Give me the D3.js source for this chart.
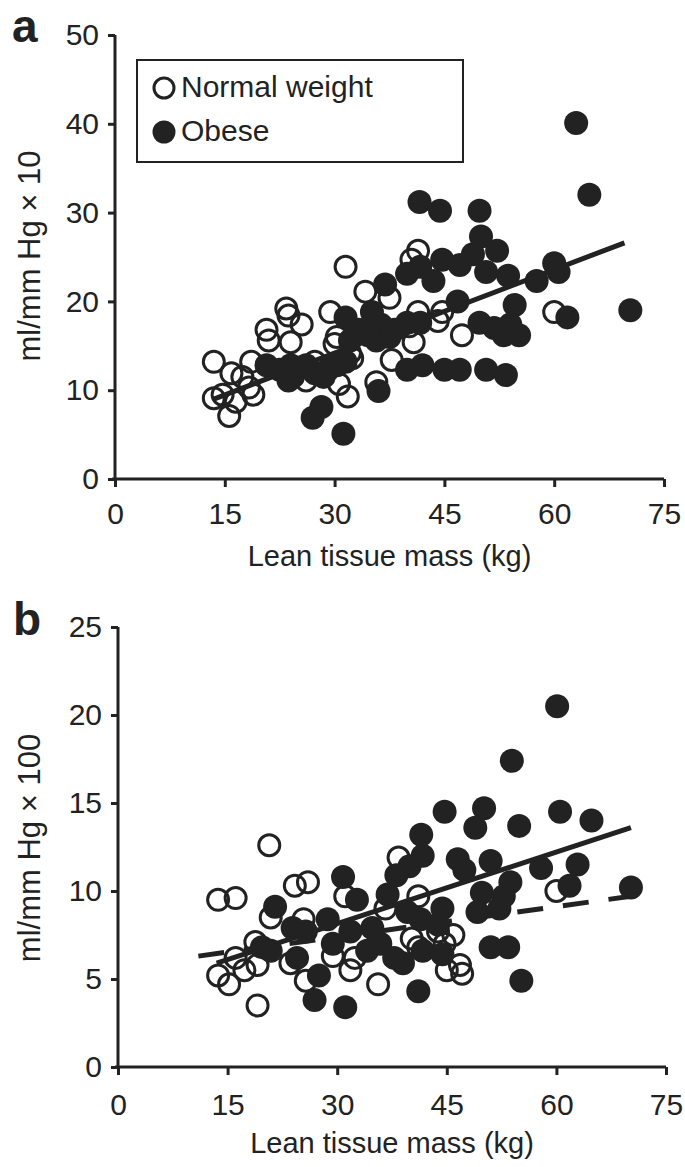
<!DOCTYPE html>
<html>
<head>
<meta charset="utf-8">
<script src="https://cdn.jsdelivr.net/npm/d3@7"></script>
<style>
  body { margin: 0; background: #fff; }
  svg text { font-family: "Liberation Sans", Arial, Helvetica, sans-serif; fill: #222; }
</style>
</head>
<body>
<div id="chart"></div>
<script>
// Panel a: lean tissue mass (kg) vs ml/mm Hg x 10
const normalA = [
  [13.5, 13.2], [13.5, 9.1], [14.7, 9.5], [15.9, 11.9], [15.6, 7.1], [16.5, 8.7],
  [17.4, 11.5], [18.6, 13.2], [18.9, 9.5], [18.3, 10.3], [20.7, 16.8], [21.0, 15.6],
  [23.4, 19.2], [23.7, 18.4], [24.0, 15.4], [25.5, 17.4], [29.4, 18.8], [31.5, 23.9],
  [30.0, 15.2], [30.3, 16.0], [30.6, 10.7], [31.8, 9.3], [32.4, 13.6], [34.2, 21.1],
  [37.5, 20.4], [37.8, 13.4], [35.7, 10.9], [41.4, 25.7], [40.5, 24.7], [41.4, 18.8],
  [40.2, 17.2], [40.8, 15.4], [44.1, 17.8], [44.7, 18.8], [47.4, 16.2], [60.0, 18.8],
  [26.1, 11.1], [32.1, 14.2], [27.3, 13.2]
];
const obeseA = [
  [63.0, 40.1], [64.8, 32.0], [70.4, 19.0], [41.6, 31.2], [44.4, 30.2], [49.8, 30.2],
  [50.0, 27.3], [52.2, 25.7], [48.9, 25.3], [44.7, 24.7], [47.1, 24.1], [50.7, 23.3],
  [53.7, 22.9], [57.6, 22.3], [60.0, 24.3], [60.6, 23.3], [61.8, 18.2], [41.7, 23.9],
  [39.9, 23.1], [43.5, 22.3], [36.9, 21.9], [46.8, 20.0], [54.6, 19.6], [49.8, 17.6],
  [51.8, 17.0], [53.1, 16.2], [55.2, 16.2], [54.0, 17.4], [39.9, 12.3], [42.0, 12.8],
  [45.0, 12.3], [47.1, 12.3], [50.7, 12.3], [53.4, 11.7], [36.0, 9.9], [31.2, 5.1],
  [27.0, 6.9], [28.2, 8.1], [31.5, 18.2], [33.3, 16.8], [35.1, 18.8], [36.3, 17.4],
  [38.2, 16.8], [39.9, 17.6], [41.7, 17.6], [35.7, 15.6], [37.5, 16.0], [34.6, 16.2],
  [32.1, 15.6], [20.7, 12.8], [22.5, 12.3], [24.3, 11.5], [24.0, 12.8], [26.1, 12.8],
  [27.3, 11.9], [29.1, 12.3], [30.3, 12.8], [28.5, 11.5], [31.5, 13.2], [23.7, 11.1]
];
const lineA = [[13.5, 9.0], [69.6, 26.6]];

// Panel b: lean tissue mass (kg) vs ml/mm Hg x 100
const normalB = [
  [13.7, 9.5], [16.1, 9.6], [20.7, 12.6], [20.9, 8.5], [24.2, 10.3], [26.0, 10.5],
  [31.1, 9.7], [38.4, 11.9], [13.7, 5.2], [15.2, 4.7], [16.1, 6.2], [17.3, 5.5],
  [18.8, 7.1], [19.1, 5.8], [19.1, 3.5], [25.4, 8.4], [25.7, 4.9], [23.6, 5.9],
  [29.4, 6.3], [31.8, 5.5], [32.4, 6.2], [35.6, 4.7], [40.2, 7.3], [41.1, 6.8],
  [44.7, 7.0], [45.9, 7.5], [45.0, 5.5], [47.1, 5.3], [46.8, 5.8], [60.0, 10.0],
  [36.6, 9.0], [43.8, 7.7], [41.1, 9.7]
];
const obeseB = [
  [60.1, 20.5], [53.9, 17.4], [44.7, 14.5], [50.1, 14.7], [48.9, 13.6], [60.5, 14.5],
  [64.8, 14.0], [54.9, 13.7], [41.5, 13.2], [41.7, 12.0], [51.0, 11.7], [46.5, 11.8],
  [47.4, 11.2], [57.9, 11.3], [62.9, 11.5], [61.8, 10.3], [70.2, 10.2], [30.8, 10.8],
  [39.9, 11.4], [38.1, 10.9], [36.9, 9.8], [32.7, 9.5], [21.5, 9.1], [53.7, 10.5],
  [52.8, 9.7], [49.8, 9.9], [49.2, 8.8], [52.2, 9.0], [44.4, 9.0], [43.8, 8.1],
  [41.4, 8.4], [39.6, 8.8], [28.7, 8.4], [23.9, 7.9], [25.7, 7.7], [19.7, 6.8],
  [20.9, 6.6], [34.8, 7.9], [31.8, 7.7], [35.9, 7.0], [37.8, 6.2], [39.0, 5.9],
  [41.7, 6.6], [44.4, 6.4], [24.5, 6.2], [27.5, 5.2], [26.9, 3.8], [31.1, 3.4],
  [41.1, 4.3], [55.2, 4.9], [51.0, 6.8], [53.4, 6.8], [34.1, 6.6], [29.4, 7.0]
];
const solidB = [[13.5, 5.9], [70.2, 13.6]];
const dashedB = [[11.0, 6.3], [70.2, 9.7]];

const xTicks = [0, 15, 30, 45, 60, 75];
const yTicksA = [0, 10, 20, 30, 40, 50];
const yTicksB = [0, 5, 10, 15, 20, 25];

const ink = "#222";
const width = 685, height = 1167;
const svg = d3.select("#chart").append("svg")
  .attr("width", width).attr("height", height);

function panel(opts) {
  const x = d3.scaleLinear().domain([0, 75]).range(opts.xRange);
  const y = d3.scaleLinear().domain(opts.yDomain).range(opts.yRange);
  const g = svg.append("g");

  // axes
  const xAxis = g.append("g")
    .attr("transform", `translate(0,${opts.yRange[0]})`)
    .call(d3.axisBottom(x).tickValues(xTicks).tickSize(8).tickPadding(opts.xPad));
  const yAxis = g.append("g")
    .attr("transform", `translate(${opts.xRange[0]},0)`)
    .call(d3.axisLeft(y).tickValues(opts.yTicks).tickSize(7).tickPadding(9));
  [xAxis, yAxis].forEach(a => {
    a.select(".domain").attr("stroke", ink).attr("stroke-width", 3);
    a.selectAll(".tick line").attr("stroke", ink).attr("stroke-width", 3);
    a.selectAll(".tick text").attr("font-size", 30).attr("fill", ink)
      .style("font-family", "'Liberation Sans', Arial, sans-serif");
  });
  xAxis.select(".domain").attr("d", `M${opts.xRange[0] - 3},0H${opts.xRange[1]}`);
  yAxis.select(".domain").attr("d", `M0,${opts.yRange[0]}V${opts.yRange[1]}`);

  // points
  g.append("g").selectAll("circle").data(opts.normal).join("circle")
    .attr("cx", d => x(d[0])).attr("cy", d => y(d[1])).attr("r", 10.5)
    .attr("fill", "none").attr("stroke", ink).attr("stroke-width", 3);
  g.append("g").selectAll("circle").data(opts.obese).join("circle")
    .attr("cx", d => x(d[0])).attr("cy", d => y(d[1])).attr("r", 12)
    .attr("fill", ink);

  // regression lines
  const line = d3.line().x(d => x(d[0])).y(d => y(d[1]));
  opts.lines.forEach(l => {
    g.append("path").attr("d", line(l.pts)).attr("fill", "none")
      .attr("stroke", ink).attr("stroke-width", 5)
      .attr("stroke-dasharray", l.dash || null);
  });

  // titles
  g.append("text").attr("x", (opts.xRange[0] + opts.xRange[1]) / 2).attr("y", opts.xTitleY)
    .attr("text-anchor", "middle").attr("font-size", 29).text("Lean tissue mass (kg)");
  g.append("text")
    .attr("transform", `translate(40,${opts.yTitleY}) rotate(-90)`)
    .attr("text-anchor", "middle").attr("font-size", 31).text(opts.yTitle);
  g.append("text").attr("x", opts.letter[1]).attr("y", opts.letter[2])
    .attr("font-size", 46).attr("font-weight", "bold").text(opts.letter[0]);
  return { x, y, g };
}

const pa = panel({
  xRange: [115, 664], yDomain: [0, 50], yRange: [479, 35], yTicks: yTicksA, xPad: 16,
  normal: normalA, obese: obeseA, lines: [{ pts: lineA }],
  xTitleY: 566, yTitleY: 256, yTitle: "ml/mm Hg \u00d7 10", letter: ["a", 12, 42]
});

const pb = panel({
  xRange: [118, 666], yDomain: [0, 25], yRange: [1067, 627], yTicks: yTicksB, xPad: 19,
  normal: normalB, obese: obeseB,
  lines: [{ pts: solidB }, { pts: dashedB, dash: "26,20" }],
  xTitleY: 1153, yTitleY: 848, yTitle: "ml/mm Hg \u00d7 100", letter: ["b", 13, 635]
});

// legend (panel a)
const leg = pa.g.append("g");
leg.append("rect").attr("x", 137).attr("y", 60).attr("width", 326).attr("height", 102)
  .attr("fill", "#fff").attr("stroke", ink).attr("stroke-width", 2);
const legendItems = [["Normal weight", false], ["Obese", true]];
legendItems.forEach((d, i) => {
  const cy = 88 + i * 44;
  leg.append("circle").attr("cx", 164).attr("cy", cy).attr("r", d[1] ? 11.5 : 10)
    .attr("fill", d[1] ? ink : "#fff").attr("stroke", ink).attr("stroke-width", d[1] ? 0 : 3);
  leg.append("text").attr("x", 181).attr("y", cy + 9).attr("font-size", 30).text(d[0]);
});
</script>
</body>
</html>
